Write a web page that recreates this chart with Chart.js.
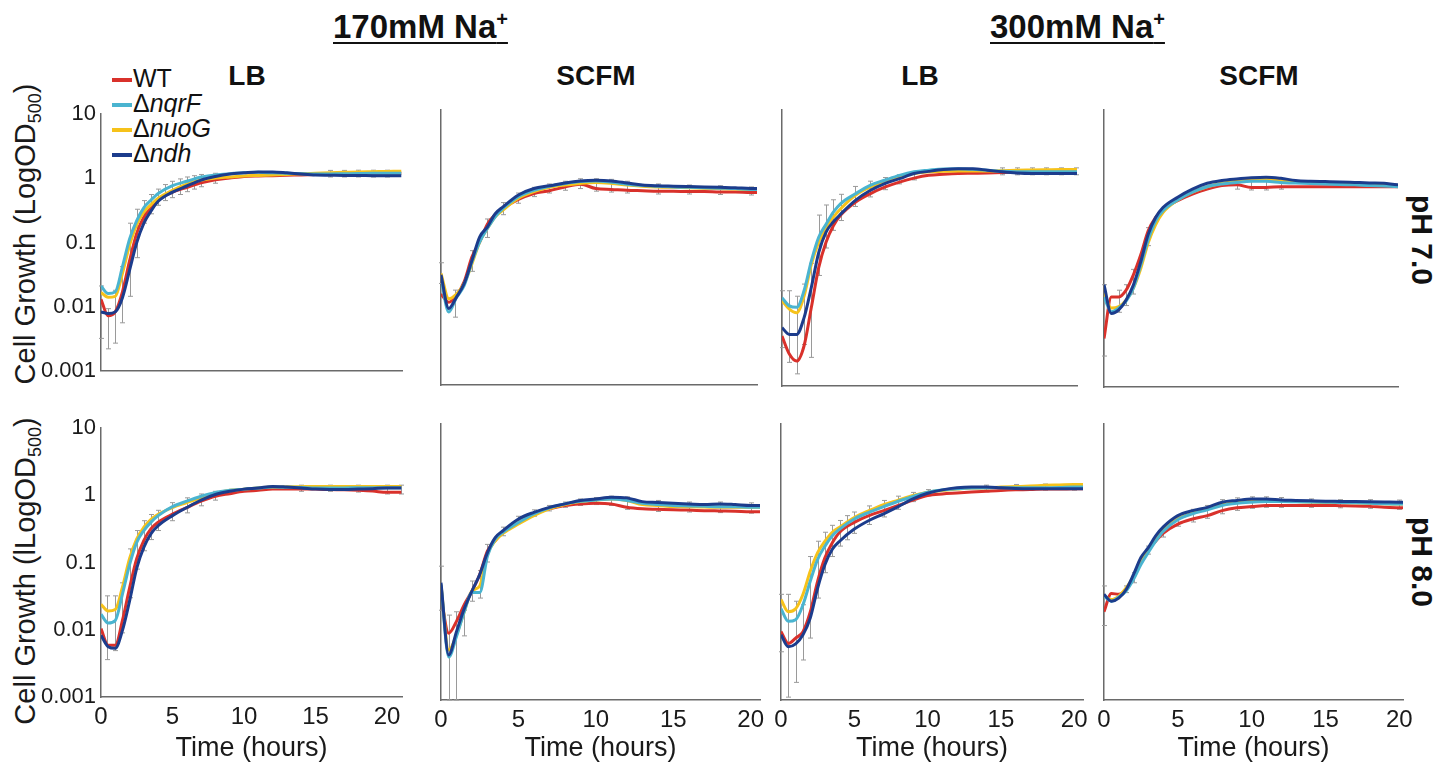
<!DOCTYPE html>
<html>
<head>
<meta charset="utf-8">
<script src="https://cdn.jsdelivr.net/npm/chart.js@4.4.1/dist/chart.umd.min.js"></script>
<style>
  body { margin:0; width:1455px; height:765px; background:#fff; position:relative; overflow:hidden;
         font-family:"Liberation Sans", Arial, sans-serif; color:#111; }
  canvas { position:absolute; }
  .na { position:absolute; top:8px; font-size:33px; font-weight:bold; text-decoration:underline;
        text-decoration-thickness:2px; text-underline-offset:4px; white-space:nowrap; }
  .na sup { font-size:20px; line-height:0; }
  .med { position:absolute; top:60px; font-size:28px; font-weight:bold; transform:translateX(-50%); }
  .ph { position:absolute; font-size:30px; font-weight:bold; white-space:nowrap;
        transform:translate(-50%,-50%) rotate(90deg); }
  .ytitle { position:absolute; left:25px; font-size:29px; white-space:nowrap; color:#1a1a1a;
            transform:translate(-50%,-50%) rotate(-90deg); }
  .ytitle sub { font-size:18px; line-height:0; }
  .leg { position:absolute; left:112px; font-size:25px; white-space:nowrap; line-height:25px; }
  .leg b { display:inline-block; width:20px; height:4px; vertical-align:middle; margin-right:1px; }
</style>
</head>
<body>
<div class="na" style="left:333px">170mM Na<sup>+</sup></div>
<div class="na" style="left:990px">300mM Na<sup>+</sup></div>
<div class="med" style="left:247px">LB</div>
<div class="med" style="left:596px">SCFM</div>
<div class="med" style="left:920px">LB</div>
<div class="med" style="left:1259px">SCFM</div>
<div class="ph" style="left:1422px; top:240px">pH 7.0</div>
<div class="ph" style="left:1422px; top:562px">pH 8.0</div>
<div class="ytitle" style="top:234px">Cell Growth (LogOD<sub>500</sub>)</div>
<div class="ytitle" style="top:571px">Cell Growth (lLogOD<sub>500</sub>)</div>
<div id="legend"></div>

<script>
// time points (hours) and strains
var hours   = [0, 0.5, 1, 1.5, 2, 2.5, 3, 3.5, 4, 5, 6, 7, 8, 9, 10, 11, 12, 13, 14, 15, 16, 17, 18, 19, 20, 21];
var strains = ['WT', '\u0394nqrF', '\u0394nuoG', '\u0394ndh'];
var colors  = ['#d9312b', '#4ab4d0', '#f6c21a', '#1c3c8c'];
var yTicks  = [10, 1, 0.1, 0.01, 0.001];
var xTicks  = [0, 5, 10, 15, 20];

// 170mM Na+, LB, pH 7.0
var lb170_7_WT   = [0.013, 0.0072, 0.0083, 0.017, 0.052, 0.14, 0.25, 0.35, 0.46, 0.61, 0.72, 0.85, 0.95, 1.01, 1.07, 1.09, 1.1, 1.12, 1.13, 1.15, 1.16, 1.17, 1.18, 1.19, 1.2, 1.2];
var lb170_7_nqrF = [0.021, 0.016, 0.017, 0.042, 0.114, 0.22, 0.35, 0.46, 0.58, 0.77, 0.9, 1.05, 1.13, 1.18, 1.22, 1.24, 1.22, 1.2, 1.18, 1.17, 1.17, 1.18, 1.19, 1.2, 1.2, 1.2];
var lb170_7_nuoG = [0.0166, 0.014, 0.0145, 0.033, 0.091, 0.19, 0.30, 0.39, 0.49, 0.65, 0.81, 0.94, 1.01, 1.05, 1.09, 1.11, 1.13, 1.15, 1.18, 1.2, 1.22, 1.24, 1.26, 1.27, 1.28, 1.29];
var lb170_7_ndh  = [0.0083, 0.0078, 0.0083, 0.0138, 0.037, 0.10, 0.20, 0.31, 0.44, 0.61, 0.76, 0.94, 1.07, 1.17, 1.22, 1.26, 1.26, 1.22, 1.17, 1.13, 1.12, 1.11, 1.11, 1.1, 1.1, 1.1];
var lb170_7_err  = [[0, 0.0032, 0.021], [0.5, 0.0022, 0.0093], [1, 0.0027, 0.018], [1.5, 0.0056, 0.042], [2, 0.0145, 0.2], [2.5, 0.058, 0.33],
                    [3, 0.2, 0.45], [3.5, 0.28, 0.56], [4, 0.38, 0.68], [4.5, 0.45, 0.8], [5, 0.5, 0.9], [5.5, 0.56, 0.98], [6, 0.62, 1.05],
                    [6.5, 0.68, 1.1], [7, 0.74, 1.15], [8, 0.84, 1.2], [16, 1.05, 1.33], [17, 1.05, 1.33], [18, 1.05, 1.34], [19, 1.05, 1.34], [20, 1.05, 1.34]];

// 170mM Na+, SCFM, pH 7.0
var scfm170_7_WT   = [0.021, 0.016, 0.02, 0.032, 0.073, 0.121, 0.22, 0.30, 0.37, 0.50, 0.61, 0.67, 0.76, 0.83, 0.72, 0.70, 0.68, 0.67, 0.66, 0.66, 0.65, 0.65, 0.64, 0.64, 0.63, 0.63];
var scfm170_7_nqrF = [0.036, 0.0115, 0.0187, 0.028, 0.062, 0.121, 0.19, 0.28, 0.37, 0.55, 0.68, 0.78, 0.85, 0.91, 0.93, 0.89, 0.835, 0.80, 0.78, 0.76, 0.75, 0.74, 0.73, 0.72, 0.70, 0.70];
var scfm170_7_nuoG = [0.042, 0.018, 0.021, 0.030, 0.058, 0.121, 0.19, 0.28, 0.35, 0.52, 0.65, 0.75, 0.81, 0.855, 0.88, 0.855, 0.81, 0.78, 0.76, 0.75, 0.74, 0.73, 0.72, 0.71, 0.70, 0.70];
var scfm170_7_ndh  = [0.040, 0.013, 0.019, 0.030, 0.065, 0.143, 0.20, 0.31, 0.39, 0.58, 0.72, 0.79, 0.87, 0.93, 0.95, 0.93, 0.87, 0.81, 0.79, 0.78, 0.77, 0.76, 0.75, 0.74, 0.72, 0.72];
var scfm170_7_err  = [[0, 0.03, 0.06], [0.9, 0.0097, 0.024], [2, 0.045, 0.09], [3, 0.14, 0.26], [4, 0.3, 0.45], [5, 0.44, 0.62], [6, 0.55, 0.75],
                      [7, 0.62, 0.84], [8, 0.68, 0.92], [9, 0.72, 1.0], [10, 0.66, 1.0], [11, 0.64, 0.98], [12, 0.62, 0.92], [14, 0.6, 0.84],
                      [16, 0.6, 0.81], [18, 0.59, 0.79], [20, 0.58, 0.76]];

// 300mM Na+, LB, pH 7.0
var lb300_7_WT   = [0.0053, 0.0029, 0.0023, 0.0038, 0.0138, 0.052, 0.121, 0.21, 0.30, 0.46, 0.61, 0.76, 0.90, 1.03, 1.13, 1.17, 1.20, 1.21, 1.22, 1.24, 1.27, 1.28, 1.29, 1.29, 1.29, 1.29];
var lb300_7_nqrF = [0.019, 0.0145, 0.0138, 0.024, 0.065, 0.143, 0.22, 0.33, 0.44, 0.61, 0.81, 0.96, 1.13, 1.27, 1.34, 1.40, 1.41, 1.38, 1.34, 1.29, 1.27, 1.27, 1.27, 1.27, 1.27, 1.27];
var lb300_7_nuoG = [0.0173, 0.013, 0.0115, 0.020, 0.058, 0.121, 0.20, 0.28, 0.37, 0.58, 0.76, 0.90, 1.07, 1.20, 1.27, 1.29, 1.31, 1.31, 1.31, 1.32, 1.34, 1.35, 1.36, 1.37, 1.37, 1.37];
var lb300_7_ndh  = [0.007, 0.0056, 0.0056, 0.0097, 0.027, 0.086, 0.17, 0.24, 0.31, 0.49, 0.68, 0.855, 1.01, 1.20, 1.29, 1.37, 1.41, 1.41, 1.34, 1.27, 1.22, 1.20, 1.20, 1.20, 1.20, 1.20];
var lb300_7_err  = [[0, 0.0036, 0.024], [0.5, 0.0022, 0.024], [1, 0.0015, 0.02], [1.5, 0.004, 0.03], [2, 0.0026, 0.06], [2.5, 0.04, 0.3],
                    [3, 0.1, 0.42], [3.5, 0.18, 0.5], [4, 0.25, 0.6], [5, 0.4, 0.78], [6, 0.55, 0.93], [7, 0.7, 1.05], [8, 0.85, 1.15],
                    [9, 0.97, 1.28], [15, 1.15, 1.45], [16, 1.15, 1.45], [17, 1.15, 1.45], [18, 1.15, 1.45], [19, 1.15, 1.45], [20, 1.15, 1.45]];

// 300mM Na+, SCFM, pH 7.0
var scfm300_7_WT   = [0.005, 0.02, 0.02, 0.025, 0.042, 0.082, 0.18, 0.28, 0.37, 0.49, 0.61, 0.72, 0.81, 0.835, 0.76, 0.76, 0.78, 0.78, 0.78, 0.78, 0.78, 0.78, 0.78, 0.78, 0.78, 0.78];
var scfm300_7_nqrF = [0.020, 0.0122, 0.0138, 0.0174, 0.027, 0.058, 0.135, 0.25, 0.35, 0.50, 0.65, 0.78, 0.855, 0.90, 0.935, 0.935, 0.90, 0.88, 0.865, 0.855, 0.84, 0.83, 0.81, 0.80, 0.78, 0.78];
var scfm300_7_nuoG = [0.0225, 0.0138, 0.0145, 0.018, 0.027, 0.052, 0.121, 0.22, 0.33, 0.50, 0.65, 0.78, 0.875, 0.935, 0.98, 1.01, 0.96, 0.93, 0.91, 0.90, 0.88, 0.86, 0.84, 0.83, 0.81, 0.81];
var scfm300_7_ndh  = [0.030, 0.0115, 0.013, 0.018, 0.030, 0.065, 0.16, 0.28, 0.39, 0.55, 0.72, 0.875, 0.96, 1.01, 1.05, 1.07, 1.03, 0.96, 0.935, 0.925, 0.915, 0.90, 0.885, 0.875, 0.835, 0.835];
var scfm300_7_err  = [[0, 0.0028, 0.03], [1, 0.012, 0.025], [1.5, 0.015, 0.03], [2, 0.022, 0.05], [3, 0.11, 0.2],
                      [9, 0.72, 0.95], [10, 0.7, 0.98], [11, 0.7, 0.98], [12, 0.72, 0.98]];

// 170mM Na+, LB, pH 8.0
var lb170_8_WT   = [0.0104, 0.0059, 0.0059, 0.0138, 0.042, 0.115, 0.214, 0.32, 0.40, 0.525, 0.66, 0.82, 0.97, 1.06, 1.15, 1.19, 1.24, 1.24, 1.24, 1.24, 1.22, 1.21, 1.19, 1.16, 1.11, 1.11];
var lb170_8_nqrF = [0.017, 0.0126, 0.0138, 0.034, 0.093, 0.20, 0.30, 0.40, 0.50, 0.68, 0.82, 0.97, 1.11, 1.19, 1.24, 1.29, 1.33, 1.32, 1.31, 1.29, 1.29, 1.29, 1.30, 1.30, 1.30, 1.30];
var lb170_8_nuoG = [0.024, 0.019, 0.020, 0.043, 0.115, 0.226, 0.336, 0.44, 0.525, 0.66, 0.78, 0.92, 1.06, 1.19, 1.24, 1.29, 1.33, 1.34, 1.35, 1.36, 1.36, 1.36, 1.36, 1.36, 1.36, 1.36];
var lb170_8_ndh  = [0.0083, 0.0056, 0.0053, 0.0098, 0.027, 0.083, 0.17, 0.27, 0.355, 0.50, 0.66, 0.85, 1.03, 1.15, 1.24, 1.29, 1.36, 1.33, 1.29, 1.24, 1.22, 1.22, 1.24, 1.26, 1.29, 1.29];
var lb170_8_err  = [[0.4, 0.0036, 0.032], [1, 0.0049, 0.032], [1.5, 0.009, 0.05], [2, 0.03, 0.16], [2.5, 0.08, 0.3], [3, 0.15, 0.42],
                    [3.5, 0.22, 0.52], [4, 0.3, 0.6], [5, 0.42, 0.78], [6, 0.55, 0.92], [7, 0.7, 1.05], [8, 0.85, 1.15],
                    [14, 1.15, 1.42], [16, 1.15, 1.42], [18, 1.12, 1.42], [20, 1.05, 1.42], [21, 1.05, 1.42]];

// 170mM Na+, SCFM, pH 8.0
var scfm170_8_WT   = [0.030, 0.0093, 0.0138, 0.024, 0.038, 0.066, 0.145, 0.203, 0.27, 0.40, 0.50, 0.59, 0.66, 0.695, 0.71, 0.695, 0.62, 0.59, 0.58, 0.57, 0.565, 0.555, 0.55, 0.545, 0.537, 0.537];
var scfm170_8_nqrF = [0.047, 0.0042, 0.0083, 0.019, 0.036, 0.036, 0.122, 0.214, 0.27, 0.375, 0.50, 0.61, 0.695, 0.76, 0.79, 0.82, 0.78, 0.71, 0.68, 0.66, 0.65, 0.64, 0.63, 0.63, 0.62, 0.62];
var scfm170_8_nuoG = [0.047, 0.0053, 0.0088, 0.019, 0.038, 0.045, 0.129, 0.203, 0.26, 0.355, 0.47, 0.59, 0.68, 0.75, 0.79, 0.82, 0.78, 0.68, 0.66, 0.635, 0.63, 0.625, 0.62, 0.62, 0.62, 0.62];
var scfm170_8_ndh  = [0.050, 0.0045, 0.0098, 0.021, 0.038, 0.066, 0.137, 0.226, 0.284, 0.42, 0.525, 0.62, 0.695, 0.78, 0.82, 0.87, 0.85, 0.75, 0.73, 0.71, 0.695, 0.68, 0.695, 0.68, 0.66, 0.66];
var scfm170_8_err  = [[0, 0.02, 0.087], [0.5, 0.001, 0.017], [1, 0.001, 0.019], [1.5, 0.0085, 0.02], [2, 0.027, 0.053], [2.5, 0.03, 0.075],
                      [3, 0.1, 0.18], [4, 0.24, 0.32], [5, 0.36, 0.46], [6, 0.46, 0.57], [7, 0.55, 0.66], [8, 0.62, 0.74], [9, 0.66, 0.82],
                      [10, 0.68, 0.86], [11, 0.66, 0.9], [12, 0.58, 0.88], [14, 0.54, 0.78], [16, 0.53, 0.74], [18, 0.52, 0.74], [20, 0.51, 0.72]];

// 300mM Na+, LB, pH 8.0
var lb300_8_WT   = [0.0098, 0.0066, 0.0079, 0.0098, 0.019, 0.053, 0.116, 0.19, 0.27, 0.375, 0.47, 0.555, 0.66, 0.79, 0.92, 0.97, 1.0, 1.03, 1.06, 1.09, 1.11, 1.12, 1.14, 1.14, 1.15, 1.15];
var lb300_8_nqrF = [0.021, 0.0138, 0.0146, 0.024, 0.053, 0.109, 0.17, 0.24, 0.30, 0.42, 0.525, 0.635, 0.76, 0.89, 1.03, 1.11, 1.15, 1.18, 1.19, 1.19, 1.19, 1.19, 1.19, 1.2, 1.22, 1.22];
var lb300_8_nuoG = [0.0285, 0.019, 0.021, 0.034, 0.074, 0.137, 0.20, 0.27, 0.32, 0.44, 0.555, 0.68, 0.79, 0.92, 1.03, 1.09, 1.14, 1.18, 1.19, 1.22, 1.24, 1.26, 1.29, 1.31, 1.33, 1.33];
var lb300_8_ndh  = [0.0088, 0.0059, 0.0065, 0.0088, 0.0155, 0.042, 0.092, 0.153, 0.20, 0.30, 0.40, 0.50, 0.635, 0.82, 0.99, 1.11, 1.19, 1.22, 1.22, 1.19, 1.16, 1.15, 1.15, 1.15, 1.15, 1.15];
var lb300_8_err  = [[0, 0.005, 0.034], [0.5, 0.0011, 0.034], [1, 0.0018, 0.027], [1.5, 0.0038, 0.024], [2, 0.0079, 0.12], [2.5, 0.03, 0.2],
                    [3, 0.07, 0.27], [3.5, 0.12, 0.34], [4, 0.17, 0.4], [4.5, 0.21, 0.47], [5, 0.26, 0.53], [6, 0.35, 0.65], [7, 0.45, 0.78],
                    [8, 0.58, 0.9], [9, 0.75, 1.02], [10, 0.92, 1.12], [14, 1.1, 1.3], [16, 1.1, 1.33], [18, 1.1, 1.35], [20, 1.1, 1.37]];

// 300mM Na+, SCFM, pH 8.0
var scfm300_8_WT   = [0.019, 0.035, 0.034, 0.040, 0.059, 0.104, 0.153, 0.20, 0.26, 0.355, 0.42, 0.47, 0.555, 0.61, 0.635, 0.66, 0.66, 0.66, 0.66, 0.66, 0.655, 0.65, 0.64, 0.62, 0.61, 0.61];
var scfm300_8_nqrF = [0.032, 0.027, 0.031, 0.038, 0.056, 0.092, 0.137, 0.20, 0.277, 0.41, 0.50, 0.57, 0.66, 0.71, 0.735, 0.75, 0.75, 0.745, 0.74, 0.735, 0.73, 0.72, 0.71, 0.70, 0.695, 0.695];
var scfm300_8_nuoG = [0.032, 0.0285, 0.032, 0.042, 0.0625, 0.109, 0.145, 0.226, 0.29, 0.42, 0.51, 0.59, 0.68, 0.735, 0.78, 0.78, 0.76, 0.75, 0.74, 0.735, 0.73, 0.72, 0.71, 0.70, 0.695, 0.695];
var scfm300_8_ndh  = [0.034, 0.027, 0.030, 0.040, 0.066, 0.116, 0.162, 0.24, 0.32, 0.47, 0.555, 0.62, 0.735, 0.78, 0.82, 0.82, 0.79, 0.78, 0.77, 0.76, 0.755, 0.75, 0.745, 0.74, 0.735, 0.735];
var scfm300_8_err  = [[0, 0.012, 0.045], [1.5, 0.036, 0.045], [2, 0.05, 0.07], [3, 0.13, 0.17], [4, 0.23, 0.3], [5, 0.33, 0.45],
                      [6, 0.38, 0.58], [7, 0.43, 0.66], [8, 0.5, 0.8], [9, 0.56, 0.85], [10, 0.6, 0.88], [11, 0.62, 0.88], [12, 0.62, 0.86],
                      [14, 0.62, 0.82], [16, 0.61, 0.8], [18, 0.6, 0.8], [20, 0.58, 0.79]];

var panels = [
    {l:101,  r:402,  t:110, b:385, xMax:21.05, yAxis:true,  xAxis:false,
     series:[lb170_7_WT, lb170_7_nqrF, lb170_7_nuoG, lb170_7_ndh], err:lb170_7_err},
    {l:441,  r:757,  t:110, b:385, xMax:20.4,  yAxis:false, xAxis:false,
     series:[scfm170_7_WT, scfm170_7_nqrF, scfm170_7_nuoG, scfm170_7_ndh], err:scfm170_7_err},
    {l:782,  r:1077, t:110, b:386, xMax:20.1,  yAxis:false, xAxis:false,
     series:[lb300_7_WT, lb300_7_nqrF, lb300_7_nuoG, lb300_7_ndh], err:lb300_7_err},
    {l:1104, r:1398, t:110, b:387, xMax:19.95, yAxis:false, xAxis:false,
     series:[scfm300_7_WT, scfm300_7_nqrF, scfm300_7_nuoG, scfm300_7_ndh], err:scfm300_7_err},
    {l:101,  r:402,  t:424, b:697, xMax:21.05, yAxis:true,  xAxis:true,
     series:[lb170_8_WT, lb170_8_nqrF, lb170_8_nuoG, lb170_8_ndh], err:lb170_8_err},
    {l:441,  r:760,  t:424, b:700, xMax:20.6,  yAxis:false, xAxis:true,
     series:[scfm170_8_WT, scfm170_8_nqrF, scfm170_8_nuoG, scfm170_8_ndh], err:scfm170_8_err},
    {l:781,  r:1083, t:424, b:700, xMax:20.6,  yAxis:false, xAxis:true,
     series:[lb300_8_WT, lb300_8_nqrF, lb300_8_nuoG, lb300_8_ndh], err:lb300_8_err},
    {l:1104, r:1403, t:424, b:700, xMax:20.25, yAxis:false, xAxis:true,
     series:[scfm300_8_WT, scfm300_8_nqrF, scfm300_8_nuoG, scfm300_8_ndh], err:scfm300_8_err}
];

var FONT = '"Liberation Sans", Arial, sans-serif';

// gray error bars, drawn under the lines
var errorBars = {
    id: 'errorBars',
    beforeDatasetsDraw: function (chart, args, opts) {
        var ctx = chart.ctx, x = chart.scales.x, y = chart.scales.y;
        ctx.save();
        ctx.strokeStyle = '#9a9a9a';
        ctx.lineWidth = 1;
        (opts.bars || []).forEach(function (b) {
            var px = Math.round(x.getPixelForValue(b[0])) + 0.5;
            var y1 = y.getPixelForValue(b[1]);
            var y2 = y.getPixelForValue(b[2]);
            ctx.beginPath();
            ctx.moveTo(px, y1); ctx.lineTo(px, y2);
            ctx.moveTo(px - 2.5, y1); ctx.lineTo(px + 2.5, y1);
            ctx.moveTo(px - 2.5, y2); ctx.lineTo(px + 2.5, y2);
            ctx.stroke();
        });
        ctx.restore();
    }
};

function makePanel(p) {
    var yW = p.yAxis ? 93 : 20;
    var padTop = 14, padRight = 22;
    var xH = p.xAxis ? 765 - p.b : 4;
    var cv = document.createElement('canvas');
    cv.width = p.r - p.l + yW + padRight;
    cv.height = p.b - p.t + padTop + xH;
    cv.style.left = (p.l - yW) + 'px';
    cv.style.top = (p.t - padTop) + 'px';
    document.body.appendChild(cv);

    var datasets = strains.map(function (s, i) {
        return {
            label: s,
            data: hours.map(function (h, j) { return {x: h, y: p.series[i][j]}; }),
            borderColor: colors[i],
            borderWidth: 3,
            pointRadius: 0,
            cubicInterpolationMode: 'monotone',
            order: [3, 1, 2, 0][i]
        };
    });

    new Chart(cv, {
        type: 'line',
        data: {datasets: datasets},
        plugins: [errorBars],
        options: {
            responsive: false,
            animation: false,
            devicePixelRatio: 1,
            layout: {padding: {top: padTop, right: padRight, left: 0, bottom: 0}},
            plugins: {legend: {display: false}, tooltip: {enabled: false}, errorBars: {bars: p.err}},
            scales: {
                x: {
                    type: 'linear', min: 0, max: p.xMax,
                    afterBuildTicks: function (s) { s.ticks = xTicks.map(function (v) { return {value: v}; }); },
                    afterFit: function (s) { s.height = xH; },
                    grid: {display: false, drawTicks: false},
                    border: {display: true, color: '#6a6a6a', width: 1.5},
                    ticks: {display: p.xAxis, color: '#1a1a1a', padding: 6, maxRotation: 0, autoSkip: false,
                            font: {family: FONT, size: 24}},
                    title: {display: p.xAxis, text: 'Time (hours)', color: '#1a1a1a', padding: 0,
                            font: {family: FONT, size: 27}}
                },
                y: {
                    type: 'logarithmic', min: 0.001, max: 10,
                    afterBuildTicks: function (s) { s.ticks = yTicks.map(function (v) { return {value: v}; }); },
                    afterFit: function (s) { s.width = yW; },
                    grid: {display: false, drawTicks: false},
                    border: {display: true, color: '#6a6a6a', width: 1.5},
                    ticks: {display: p.yAxis, color: '#1a1a1a', padding: 5,
                            font: {family: FONT, size: 22},
                            callback: function (v) { return String(v); }}
                }
            }
        }
    });
}

panels.forEach(makePanel);

// legend in the top-left panel
var leg = document.getElementById('legend');
strains.forEach(function (s, i) {
    var row = document.createElement('div');
    row.className = 'leg';
    row.style.top = (66 + i * 25) + 'px';
    var name = s.charAt(0) === '\u0394' ? '\u0394<i>' + s.slice(1) + '</i>' : s;
    row.innerHTML = '<b style="background:' + colors[i] + '"></b>' + name;
    leg.appendChild(row);
});
</script>
</body>
</html>
